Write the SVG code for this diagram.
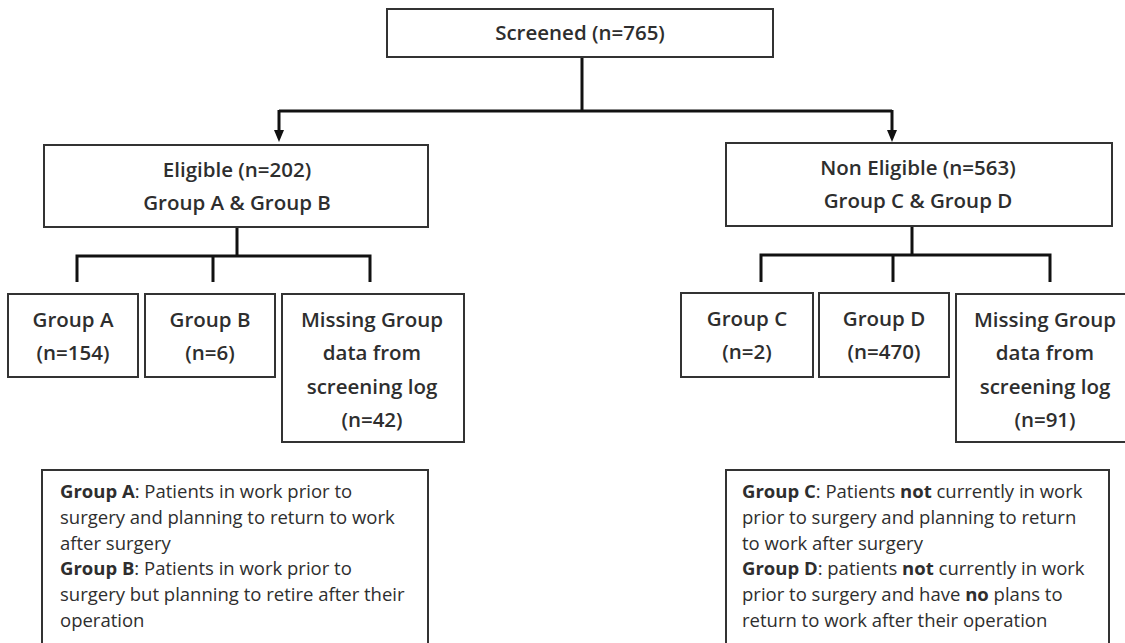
<svg xmlns="http://www.w3.org/2000/svg" width="1125" height="643" viewBox="0 0 1125 643">
  <defs>
    <!-- downward arrowhead; base sits on the line end, tip 12px further -->
    <marker id="arrow" viewBox="0 0 12 10" refX="0" refY="5" markerWidth="12" markerHeight="10" markerUnits="userSpaceOnUse" orient="auto">
      <path d="M0,0 L12,5 L0,10 Z" fill="#111"/>
    </marker>
    <style>
      .box { fill: #fff; stroke: #333; stroke-width: 2; }
      .lbl { font-family: "Open Sans", "Liberation Sans", sans-serif; font-size: 20.5px; font-weight: 600; fill: #2e2e2e; text-anchor: middle; }
      .leg { font-family: "Open Sans", "Liberation Sans", sans-serif; font-size: 18.5px; font-weight: 500; fill: #2e2e2e; }
      .leg .b { font-weight: 700; }
      .conn { fill: none; stroke: #111; stroke-width: 3; }
    </style>
  </defs>
  <rect width="1125" height="643" fill="#fff"/>

  <g id="connectors">
    <path class="conn" d="M582,57 V111"/>
    <path class="conn" d="M279,111 H892"/>
    <path class="conn" d="M279,110 V130" marker-end="url(#arrow)"/>
    <path class="conn" d="M892,110 V130" marker-end="url(#arrow)"/>
    <path class="conn" d="M237,227 V256 M77,282 V256 H370 V282 M213,256 V282"/>
    <path class="conn" d="M912,226 V255 M761,282 V255 H1050 V282 M893,255 V282"/>
  </g>

  <g id="screened">
    <rect class="box" x="387" y="9" width="386" height="48"/>
    <text class="lbl" x="580" y="40">Screened (n=765)</text>
  </g>

  <g id="eligible">
    <rect class="box" x="44" y="145" width="384" height="82"/>
    <text class="lbl" x="237" y="177">Eligible (n=202)</text>
    <text class="lbl" x="237" y="210">Group A &amp; Group B</text>
  </g>

  <g id="non-eligible">
    <rect class="box" x="726" y="143" width="386" height="83"/>
    <text class="lbl" x="918" y="175">Non Eligible (n=563)</text>
    <text class="lbl" x="918" y="208">Group C &amp; Group D</text>
  </g>

  <g id="group-a">
    <rect class="box" x="8" y="294" width="130" height="83"/>
    <text class="lbl" x="73" y="327">Group A</text>
    <text class="lbl" x="73" y="360">(n=154)</text>
  </g>

  <g id="group-b">
    <rect class="box" x="145" y="294" width="130" height="83"/>
    <text class="lbl" x="210" y="327">Group B</text>
    <text class="lbl" x="210" y="360">(n=6)</text>
  </g>

  <g id="missing-ab">
    <rect class="box" x="282" y="294" width="182" height="148"/>
    <text class="lbl" x="372" y="327">Missing Group</text>
    <text class="lbl" x="372" y="360">data from</text>
    <text class="lbl" x="372" y="394">screening log</text>
    <text class="lbl" x="372" y="427">(n=42)</text>
  </g>

  <g id="group-c">
    <rect class="box" x="681" y="293" width="132" height="84"/>
    <text class="lbl" x="747" y="326">Group C</text>
    <text class="lbl" x="747" y="359">(n=2)</text>
  </g>

  <g id="group-d">
    <rect class="box" x="819" y="293" width="130" height="84"/>
    <text class="lbl" x="884" y="326">Group D</text>
    <text class="lbl" x="884" y="359">(n=470)</text>
  </g>

  <g id="missing-cd">
    <rect class="box" x="956" y="294" width="180" height="148"/>
    <text class="lbl" x="1045" y="327">Missing Group</text>
    <text class="lbl" x="1045" y="360">data from</text>
    <text class="lbl" x="1045" y="394">screening log</text>
    <text class="lbl" x="1045" y="427">(n=91)</text>
  </g>

  <g id="legend-ab">
    <rect class="box" x="42" y="470" width="386" height="190"/>
    <text class="leg" x="60" y="498"><tspan class="b">Group A</tspan>: Patients in work prior to</text>
    <text class="leg" x="60" y="524">surgery and planning to return to work</text>
    <text class="leg" x="60" y="550">after surgery</text>
    <text class="leg" x="60" y="575"><tspan class="b">Group B</tspan>: Patients in work prior to</text>
    <text class="leg" x="60" y="601">surgery but planning to retire after their</text>
    <text class="leg" x="60" y="627">operation</text>
  </g>

  <g id="legend-cd">
    <rect class="box" x="726" y="470" width="383" height="190"/>
    <text class="leg" x="742" y="498"><tspan class="b">Group C</tspan>: Patients <tspan class="b">not</tspan> currently in work</text>
    <text class="leg" x="742" y="524">prior to surgery and planning to return</text>
    <text class="leg" x="742" y="550">to work after surgery</text>
    <text class="leg" x="742" y="575"><tspan class="b">Group D</tspan>: patients <tspan class="b">not</tspan> currently in work</text>
    <text class="leg" x="742" y="601">prior to surgery and have <tspan class="b">no</tspan> plans to</text>
    <text class="leg" x="742" y="627">return to work after their operation</text>
  </g>
</svg>
